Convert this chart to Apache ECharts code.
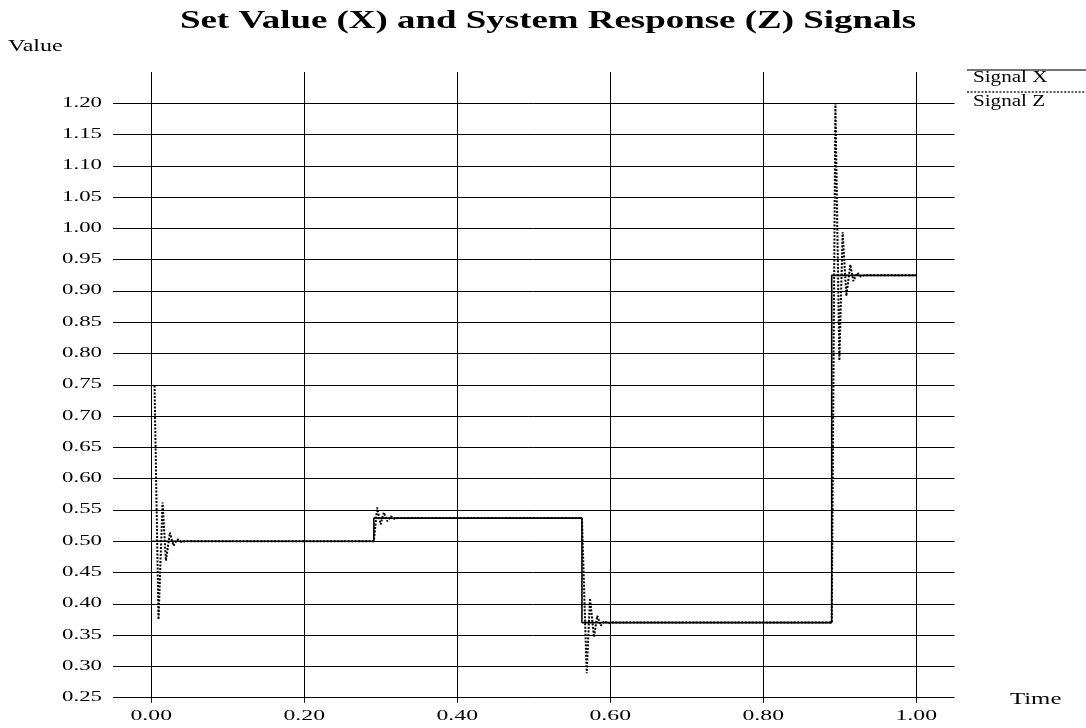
<!DOCTYPE html>
<html>
<head>
<meta charset="utf-8">
<script src="https://cdn.jsdelivr.net/npm/echarts@6/dist/echarts.min.js"></script>
<style>
html,body{margin:0;padding:0;background:#fff;}
#chart{width:1086px;height:728px;}
</style>
</head>
<body>
<div id="chart"></div>
<script>
// ---- data ----
const titleText = 'Set Value (X) and System Response (Z) Signals';
const yAxisName = 'Value';
const xAxisName = 'Time';
const seriesNames = ['Signal X', 'Signal Z'];

const xTickValues = [0, 0.2, 0.4, 0.6, 0.8, 1.0];
const xTickLabels = ['0.00', '0.20', '0.40', '0.60', '0.80', '1.00'];
const yTickValues = [0.25, 0.30, 0.35, 0.40, 0.45, 0.50, 0.55, 0.60, 0.65, 0.70,
                     0.75, 0.80, 0.85, 0.90, 0.95, 1.00, 1.05, 1.10, 1.15, 1.20];
const yTickLabels = ['0.25', '0.30', '0.35', '0.40', '0.45', '0.50', '0.55', '0.60', '0.65', '0.70',
                     '0.75', '0.80', '0.85', '0.90', '0.95', '1.00', '1.05', '1.10', '1.15', '1.20'];

// Signal X: set value (step changes)
const xTimes  = [0.000, 0.291, 0.563, 0.8895, 1.000];
const xLevels = [0.500, 0.537, 0.370, 0.925, 0.925];

// Signal Z: system response
const zTimes = [
  0.0043, 0.0095, 0.0148, 0.0192, 0.0244, 0.0290, 0.0340, 0.0390, 0.0440, 0.2910,
  0.2953, 0.2998, 0.3040, 0.3085, 0.3130, 0.3175, 0.3220, 0.5630,
  0.5692, 0.5735, 0.5787, 0.5831, 0.5875, 0.5920, 0.5970, 0.6020, 0.8895,
  0.8943, 0.8995, 0.9038, 0.9086, 0.9138, 0.9178, 0.9230, 0.9275, 0.9320, 1.0000
];
const zValues = [
  0.749, 0.375, 0.562, 0.469, 0.514, 0.493, 0.503, 0.499, 0.500, 0.500,
  0.554, 0.527, 0.546, 0.532, 0.540, 0.536, 0.537, 0.537,
  0.289, 0.409, 0.347, 0.381, 0.365, 0.372, 0.369, 0.370, 0.370,
  1.200, 0.789, 0.994, 0.892, 0.942, 0.916, 0.929, 0.923, 0.925, 0.925
];

// ---- chart ----
const chart = echarts.init(document.getElementById('chart'), null, {renderer: 'canvas'});
const serif = '"Liberation Serif", "Times New Roman", serif';

chart.setOption({
  animation: false,
  backgroundColor: '#fff',
  grid: {left: 113, right: 131.5, top: 72, bottom: 30.3, containLabel: false},
  xAxis: {
    type: 'value', min: -0.05, max: 1.05,
    axisLine: {show: false},
    axisLabel: {show: false},
    splitLine: {show: false},
    axisTick: {show: true, customValues: xTickValues, length: 5, inside: false,
               lineStyle: {color: '#000', width: 1}}
  },
  yAxis: {
    type: 'value', min: 0.25, max: 1.25, interval: 0.05,
    axisLine: {show: false},
    axisTick: {show: false},
    axisLabel: {show: false},
    splitLine: {show: true, showMaxLine: false, lineStyle: {color: '#000', width: 1}}
  },
  series: [
    {
      name: seriesNames[0], type: 'line', step: 'end', showSymbol: false, symbol: 'none',
      data: xTimes.map((t, i) => [t, xLevels[i]]),
      lineStyle: {color: '#000', width: 1.6, type: 'solid'},
      z: 3,
      markLine: {
        silent: true, symbol: ['none', 'none'], label: {show: false},
        lineStyle: {color: '#000', width: 1, type: 'solid'},
        data: xTickValues.map(v => ({xAxis: v}))
      }
    },
    {
      name: seriesNames[1], type: 'line', showSymbol: false, symbol: 'none',
      data: zTimes.map((t, i) => [t, zValues[i]]),
      lineStyle: {color: '#000', width: 2, type: [2, 1.5]},
      z: 4
    }
  ]
});

// text (stretched serif to match reference)
const els = [];
function txt(text, x, y, size, align, sx, weight) {
  els.push({
    type: 'text', x: x, y: y, scaleX: sx, scaleY: 1, silent: true,
    style: {
      text: text, x: 0, y: 0,
      font: (weight || 'normal') + ' ' + size + 'px ' + serif,
      fill: '#000',
      align: align, textAlign: align,
      verticalAlign: 'middle', textVerticalAlign: 'middle'
    }
  });
}
txt(titleText, 548, 21.5, 26, 'center', 1.42, 'bold');
txt(yAxisName, 8, 47, 16, 'left', 1.5);
txt(xAxisName, 1010, 699.5, 16.5, 'left', 1.5);

yTickValues.forEach((v, i) => {
  const py = chart.convertToPixel({yAxisIndex: 0}, v);
  txt(yTickLabels[i], 102, py - 0.5, 15, 'right', 1.52);
});
xTickValues.forEach((v, i) => {
  const px = chart.convertToPixel({xAxisIndex: 0}, v);
  txt(xTickLabels[i], px, 716.5, 15, 'center', 1.58);
});

// legend
els.push({type: 'line', silent: true, shape: {x1: 967, y1: 70, x2: 1086, y2: 70},
          style: {stroke: '#444', lineWidth: 1.5}});
els.push({type: 'line', silent: true, shape: {x1: 967, y1: 92, x2: 1086, y2: 92},
          style: {stroke: '#222', lineWidth: 1.3, lineDash: [2, 1.6]}});
txt(seriesNames[0], 973, 78, 16, 'left', 1.32);
txt(seriesNames[1], 973, 102, 16, 'left', 1.32);

chart.setOption({graphic: {elements: els}});
</script>
</body>
</html>
